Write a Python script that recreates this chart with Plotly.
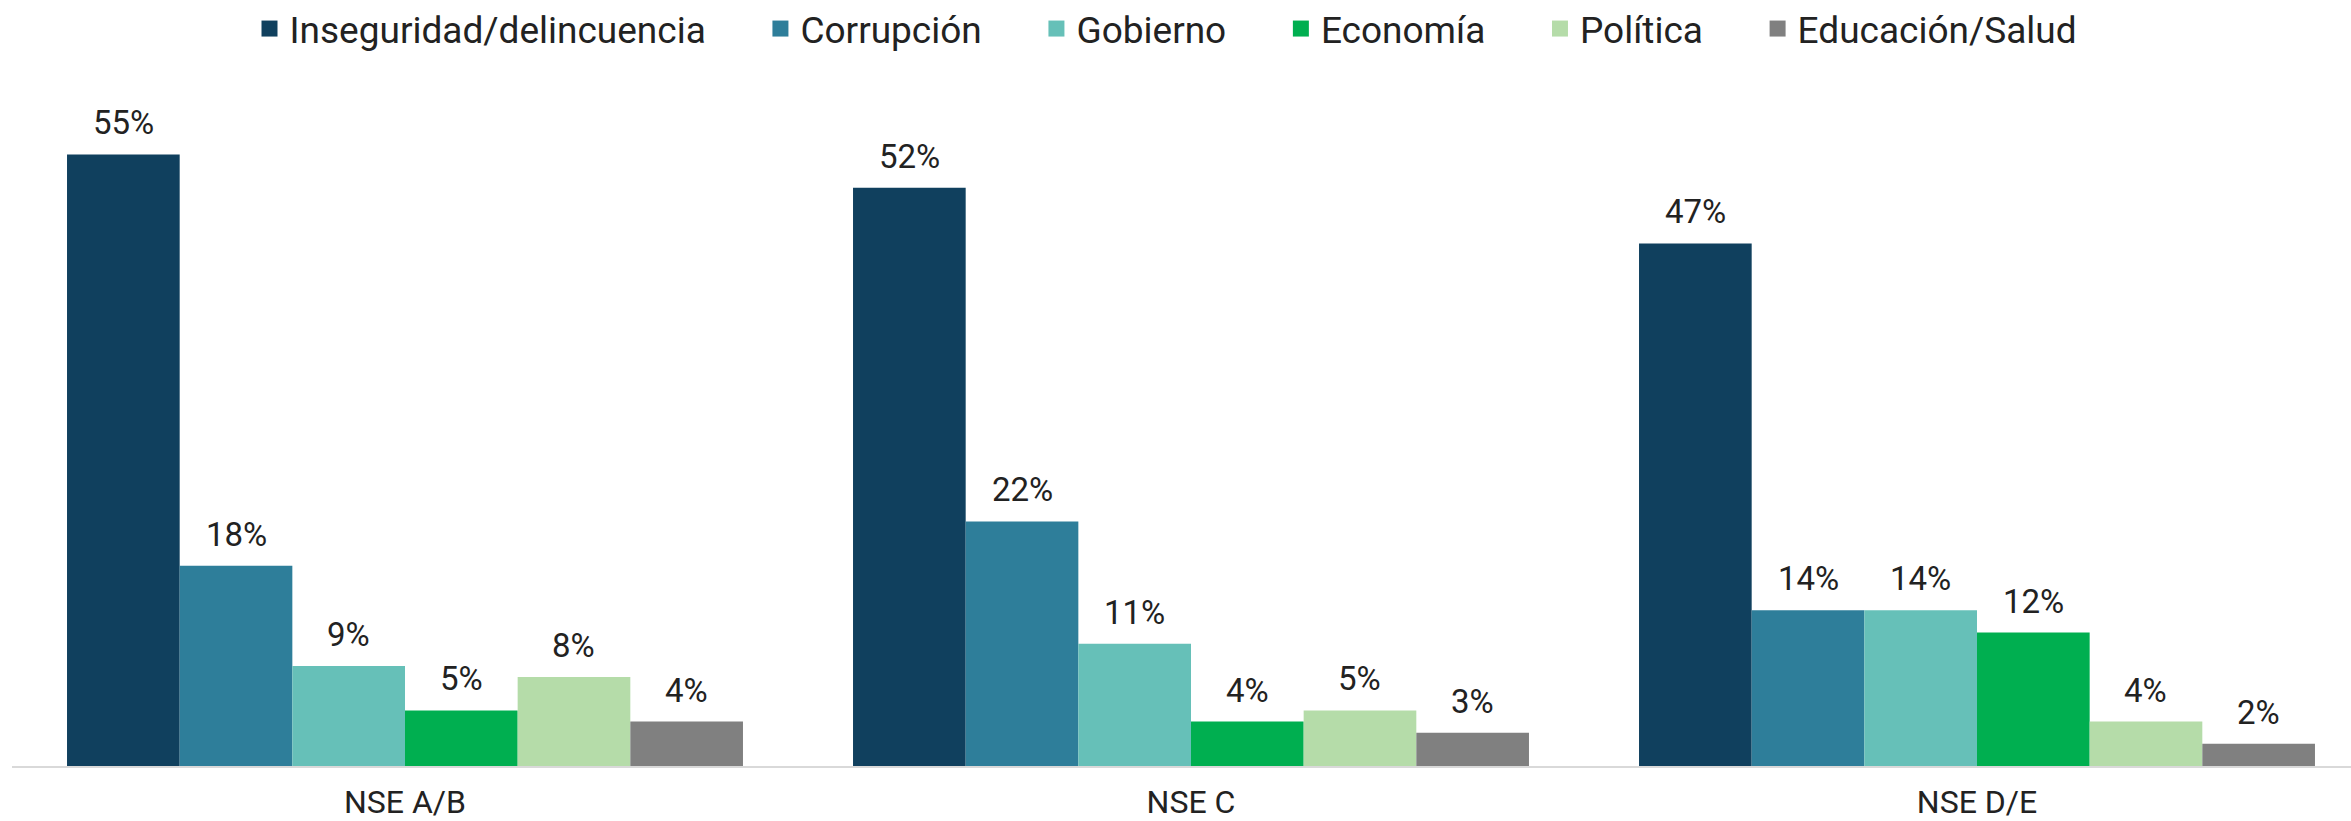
import plotly.graph_objects as go

categories = ["NSE A/B", "NSE C", "NSE D/E"]
series_names = ["Inseguridad/delincuencia", "Corrupción", "Gobierno", "Economía", "Política", "Educación/Salud"]
inseguridad = [55, 52, 47]
corrupcion = [18, 22, 14]
gobierno = [9, 11, 14]
economia = [5, 4, 12]
politica = [8, 5, 4]
educacion = [4, 3, 2]
colors = ["#10405E", "#2E7E9A", "#66C0B8", "#00AF50", "#B5DCA9", "#808080"]

values = [inseguridad, corrupcion, gobierno, economia, politica, educacion]

BARGAP = 0.14
n = len(series_names)
group_w = 1 - BARGAP
bar_w = group_w / n

fig = go.Figure()
for i, (name, vals, col) in enumerate(zip(series_names, values, colors)):
    fig.add_trace(go.Bar(
        x=categories, y=vals, name=name, showlegend=False,
        marker=dict(color=col, line=dict(width=0)),
    ))
    # value labels above each bar
    for ci, v in enumerate(vals):
        fig.add_annotation(
            x=ci - group_w / 2 + (i + 0.5) * bar_w, y=v, xref="x", yref="y",
            text=f"{v}%", showarrow=False, yanchor="bottom", yshift=10,
            font=dict(family="Roboto", size=33, color="#222222"),
        )

# legend entries
pad = "\u00a0" * 5 + "\u200a"
for i, (name, col) in enumerate(zip(series_names, colors)):
    fig.add_trace(go.Scatter(
        x=[None], y=[None], mode="markers", name=name + (pad if i < n - 1 else ""),
        marker=dict(symbol="square", size=16, color=col, line=dict(width=0)),
    ))

fig.update_layout(
    width=2351, height=821,
    barmode="group", bargap=BARGAP, bargroupgap=0,
    plot_bgcolor="white", paper_bgcolor="white",
    margin=dict(l=12, r=0, t=100, b=55, autoexpand=False),
    font=dict(family="Roboto", color="#222222"),
    legend=dict(orientation="h", xref="container", x=1166 / 2351, xanchor="center",
                yref="container", y=1 - 29 / 821, yanchor="middle",
                font=dict(family="Roboto", size=37, color="#222222"),
                traceorder="normal", itemsizing="trace"),
    xaxis=dict(range=[-0.5, -0.5 + 2339 / 786], showline=True, linecolor="#d9d9d9", linewidth=2,
               tickfont=dict(family="Roboto", size=32, color="#222222"), ticks="", showgrid=False,
               ticklabelstandoff=7, automargin=False),
    yaxis=dict(range=[0, 59.9], visible=False, showgrid=False, automargin=False),
    showlegend=True,
)

fig.write_html("out.html", config={"displayModeBar": False},
               post_script="document.body.style.margin='0px';")
